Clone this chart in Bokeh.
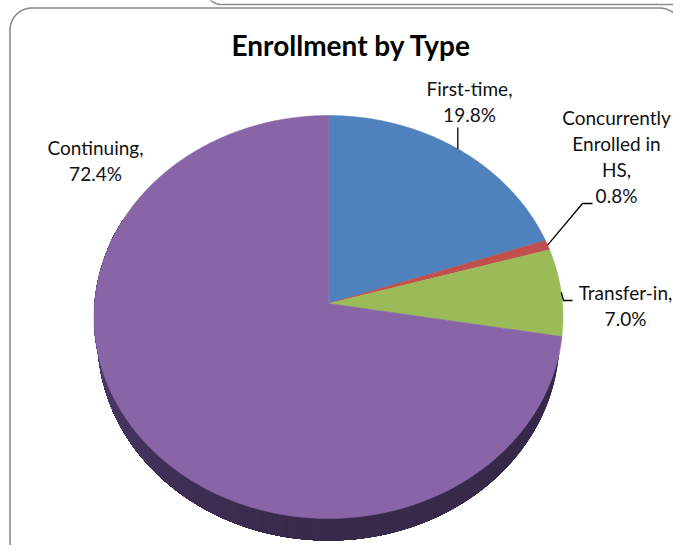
import numpy as np
from bokeh.plotting import figure
from bokeh.models import Range1d
from bokeh.core.properties import value
from bokeh.embed import file_html
from bokeh.resources import INLINE

title = "Enrollment by Type"
categories = ["First-time", "Concurrently Enrolled in HS", "Transfer-in", "Continuing"]
percents = [19.8, 0.8, 7.0, 72.4]
colors = ["#4f81bd", "#c0504d", "#9bbb59", "#8865a6"]
label_lines = [["First-time,", "19.8%"],
               ["Concurrently", "Enrolled in", "HS,", "0.8%"],
               ["Transfer-in,", "7.0%"],
               ["Continuing,", "72.4%"]]
label_x = [469, 616, 625, 95]
label_y = [96, 125, 300, 155]
LINE = 26
FONT = "Lato"
TEXT_DY = -8

W, H = 673, 545
CX, CY, A, B, K = 328, 303, 234, 200.6, 0.067
DEPTH = 22


def project(t, a=A, dy=0.0):
    u, v = np.sin(t), np.cos(t)
    w = 1 + K * v
    return CX + a * u / w, CY - B * v / w + dy


p = figure(width=W, height=H, output_backend="svg", toolbar_location=None,
           x_range=Range1d(0, W), y_range=Range1d(H, 0),
           min_border=0, background_fill_color="white", border_fill_color="white")
p.axis.visible = False
p.grid.visible = False
p.outline_line_color = None


def rounded(x0, y0, x1, y1, r):
    xs, ys = [], []
    for cx, cy, a0 in [(x0 + r, y0 + r, np.pi), (x1 - r, y0 + r, 1.5 * np.pi),
                       (x1 - r, y1 - r, 0), (x0 + r, y1 - r, 0.5 * np.pi)]:
        a = np.linspace(a0, a0 + np.pi / 2, 16)
        xs += list(cx + r * np.cos(a))
        ys += list(cy + r * np.sin(a))
    return xs + xs[:1], ys + ys[:1]


# frames
fx, fy = rounded(205, -40, 720, 4, 16)
p.line(fx, fy, line_color="#8c8c8c", line_width=1.6)
fx, fy = rounded(9.5, 7.5, 681, 562, 22)
p.line(fx, fy, line_color="#8c8c8c", line_width=1.6)

# cumulative angles
edges = np.concatenate([[0], np.cumsum(percents)]) / sum(percents) * 2 * np.pi
mids = (edges[:-1] + edges[1:]) / 2

# side wall of the pie: overlapping pieces, so no seams show
side_stops_t = np.array([0.5, 1.0, 1.15, 1.4, 1.64]) * np.pi
side_stops = np.array([[0x36, 0x28, 0x48], [0x38, 0x2a, 0x4c], [0x3c, 0x2d, 0x52],
                       [0x4a, 0x38, 0x68], [0x5c, 0x46, 0x80]], float)
t_end = edges[4] * 0.82
ts = np.linspace(edges[3], t_end, 70)
for t0 in ts[:-1]:
    seg = np.linspace(t0, t_end, 80)
    x_top, y_top = project(seg)
    x_bot, y_bot = project(seg, A * 0.985, DEPTH)
    c = [np.interp(t0, side_stops_t, side_stops[:, i]) for i in range(3)]
    col = "#%02x%02x%02x" % tuple(int(v) for v in c)
    p.patch(list(x_top) + list(x_bot[::-1]), list(y_top) + list(y_bot[::-1]),
            fill_color=col, line_color=None)

# top face
for i, col in enumerate(colors):
    t = np.linspace(edges[i], edges[i + 1], max(4, int(percents[i] * 6)))
    x, y = project(t)
    p.patch([CX] + list(x), [CY] + list(y), fill_color=col, line_color=col, line_width=0.5)

# leader lines
mx, my = project(mids)
leaders = [([mx[0], mx[0]], [my[0], 127]),
           ([mx[1], 582, 592], [my[1], 203, 203]),
           ([mx[2], 563, 572], [my[2], 300, 300])]
for lx, ly in leaders:
    p.line(lx, ly, line_color="black", line_width=1.3)

# texts
p.text([351], [52 + TEXT_DY], text=[title], text_font=value(FONT), text_font_style="bold",
       text_font_size="28px", text_align="center", text_baseline="alphabetic", text_color="black")
for lines, x0, y0 in zip(label_lines, label_x, label_y):
    ys = [y0 + TEXT_DY + LINE * j for j in range(len(lines))]
    p.text([x0] * len(lines), ys, text=lines, text_font=value(FONT), text_font_size="19px",
           text_align="center", text_baseline="alphabetic", text_color="#111111")

open("out.html", "w").write(file_html(p, INLINE))
